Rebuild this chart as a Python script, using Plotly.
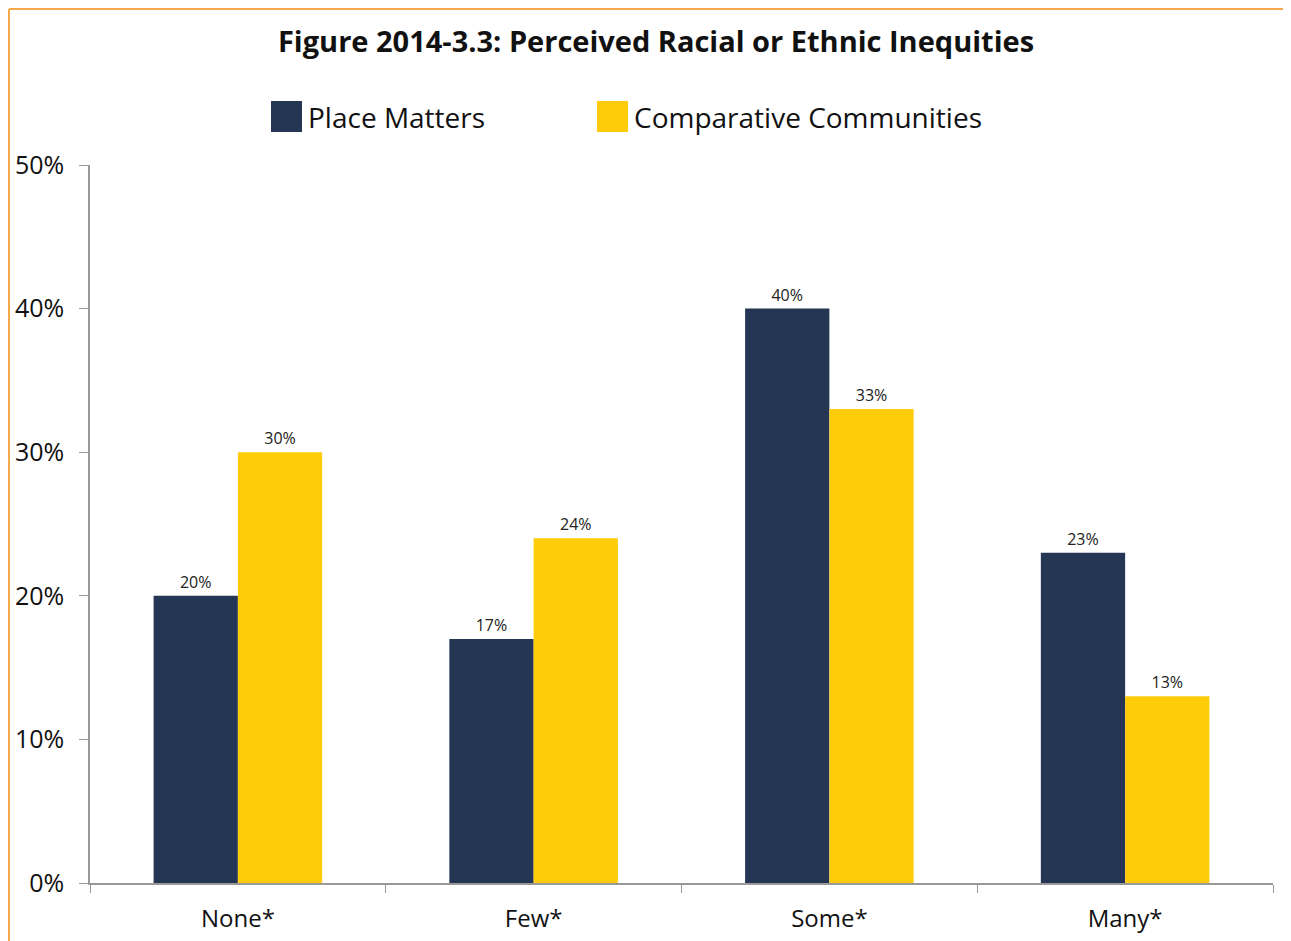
import plotly.graph_objects as go

categories = ["None*", "Few*", "Some*", "Many*"]
series_names = ["Place Matters", "Comparative Communities"]
place_matters = [20, 17, 40, 23]
comparative = [30, 24, 33, 13]
y_ticks = [0, 10, 20, 30, 40, 50]
y_tick_labels = ["0%", "10%", "20%", "30%", "40%", "50%"]
title_text = "Figure 2014-3.3: Perceived Racial or Ethnic Inequities"

colors = ["#243653", "#FFCC0A"]
FONT = "Open Sans"

W, H = 1291, 941
OFF = 8  # page body margin offset
# target screen pixel positions of the plot area
SX0, SX1, SY0, SY1 = 90, 1273, 165, 883
L, T = SX0 - OFF, SY0 - OFF
R, B = W - (SX1 - OFF), H - (SY1 - OFF)
PW, PH = SX1 - SX0, SY1 - SY0

def px(x):
    return (x - SX0) / PW

def py(y):
    return (SY1 - y) / PH

fig = go.Figure()
for name, vals, col in zip(series_names, [place_matters, comparative], colors):
    fig.add_trace(go.Bar(
        x=categories, y=vals, name=name, marker=dict(color=col, line=dict(width=0)),
        text=[f"{v}%" for v in vals], textposition="outside",
        textfont=dict(family=FONT, size=16, color="#222"), cliponaxis=False,
        showlegend=False,
    ))

shapes = []
annotations = []
# legend built from series names
leg_sq_x = [271, 597]
for i, (name, col) in enumerate(zip(series_names, colors)):
    x0 = leg_sq_x[i]
    shapes.append(dict(type="rect", xref="paper", yref="paper",
                       x0=px(x0), x1=px(x0 + 31), y0=py(132), y1=py(101),
                       fillcolor=col, line=dict(width=0)))
    annotations.append(dict(text=name, xref="paper", yref="paper", x=px(x0 + 35), y=py(117),
                            xanchor="left", yanchor="middle", showarrow=False,
                            font=dict(family=FONT, size=28, color="#111")))
# orange frame (left and top)
shapes.append(dict(type="line", xref="paper", yref="paper", x0=px(9), x1=px(9), y0=py(9), y1=py(960),
                   line=dict(color="#F7A84A", width=2)))
shapes.append(dict(type="line", xref="paper", yref="paper", x0=px(9), x1=px(1310), y0=py(9), y1=py(9),
                   line=dict(color="#F7A84A", width=2)))

fig.update_layout(
    width=W, height=H,
    margin=dict(l=L, r=R, t=T, b=B, autoexpand=False),
    paper_bgcolor="white", plot_bgcolor="white",
    barmode="group", bargap=0.43, bargroupgap=0,
    title=dict(text=title_text, xref="container", x=(656 - OFF) / W, xanchor="center",
               yref="container", y=1 - (42 - OFF) / H, yanchor="middle",
               font=dict(family=FONT, size=29, color="#111", weight="bold")),
    font=dict(family=FONT, color="#111"),
    shapes=shapes, annotations=annotations,
    yaxis=dict(range=[0, 50], tickvals=y_ticks, ticktext=y_tick_labels, automargin=False,
               ticks="outside", ticklen=9, tickcolor="#999", showline=True, linecolor="#999",
               linewidth=1.5, showgrid=False, zeroline=False, ticklabelstandoff=10,
               tickfont=dict(family=FONT, size=25, color="#111")),
    xaxis=dict(ticks="outside", tickson="boundaries", ticklen=8, tickcolor="#999", automargin=False,
               showline=True, linecolor="#999", linewidth=1.5, showgrid=False,
               tickfont=dict(family=FONT, size=24, color="#111"), ticklabelstandoff=13),
)

fig.write_html("out.html")
